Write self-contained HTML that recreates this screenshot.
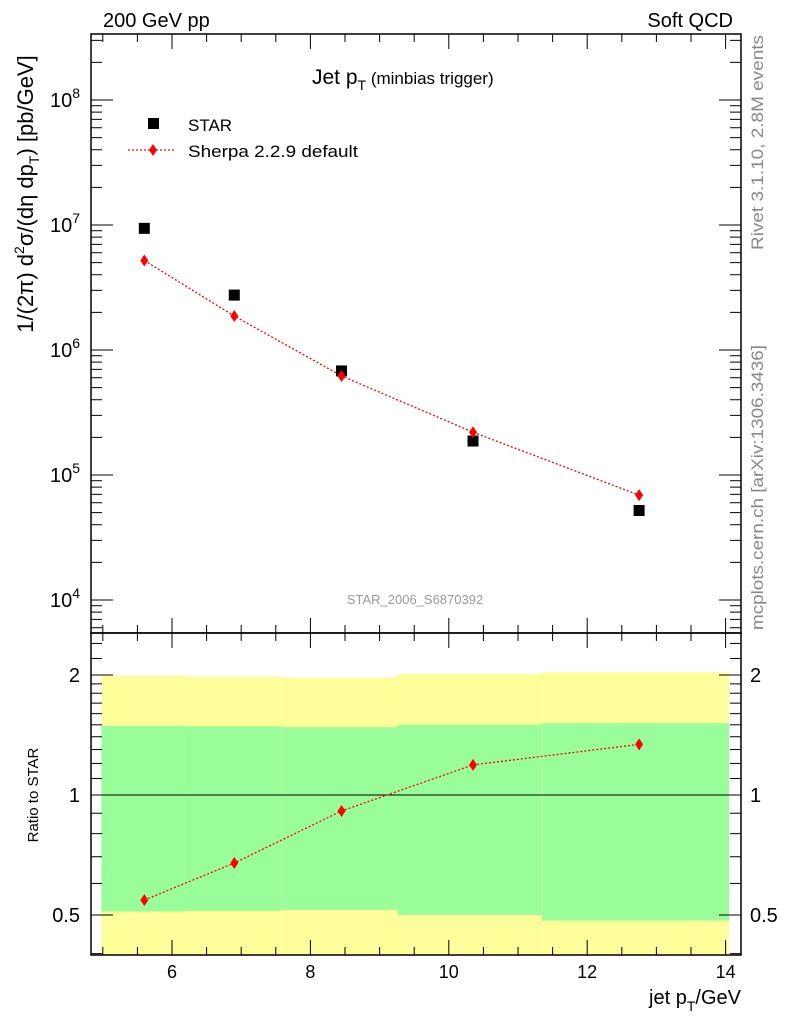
<!DOCTYPE html>
<html><head><meta charset="utf-8"><style>
body{margin:0;background:#fff;}
svg{display:block;font-family:"Liberation Sans",sans-serif;}
</style></head><body>
<svg id="c" width="786" height="1024" viewBox="0 0 786 1024">
<g id="bands"></g>
<g id="marks"></g>
<g id="axes"></g>
<text x="103" y="27" font-size="20">200 GeV pp</text>
<text x="733" y="27" font-size="20" text-anchor="end">Soft QCD</text>
<text x="312" y="84" font-size="21">Jet p<tspan font-size="14" dy="6">T</tspan><tspan font-size="17" dy="-6"> (minbias trigger)</tspan></text>
<text x="415" y="604" font-size="13" fill="#999" text-anchor="middle">STAR_2006_S6870392</text>
<text transform="translate(763,250) rotate(-90)" font-size="17" fill="#888" textLength="215" lengthAdjust="spacingAndGlyphs">Rivet 3.1.10,  2.8M events</text>
<text transform="translate(763,630) rotate(-90)" font-size="17" fill="#888" textLength="285" lengthAdjust="spacingAndGlyphs">mcplots.cern.ch [arXiv:1306.3436]</text>
<text transform="translate(33,194) rotate(-90)" font-size="22" text-anchor="middle">1/(2π) d<tspan font-size="14" dy="-9">2</tspan><tspan dy="9">σ/(dη dp</tspan><tspan font-size="14" dy="6">T</tspan><tspan dy="-6">) [pb/GeV]</tspan></text>
<text transform="translate(38,795) rotate(-90)" font-size="15" text-anchor="middle">Ratio to STAR</text>
<text x="741" y="1004" font-size="20" text-anchor="end">jet p<tspan font-size="14" dy="7">T</tspan><tspan dy="-7">/GeV</tspan></text>
<g>
<rect x="148" y="118" width="11" height="11" fill="#000"/>
<text x="188" y="131" font-size="17">STAR</text>
<line x1="128" y1="150" x2="176" y2="150" stroke="red" stroke-width="1.3" stroke-dasharray="2,2"/>
<path d="M153,144 L157,150 L153,156 L149,150Z" fill="red"/>
<text x="188" y="157" font-size="17" textLength="170" lengthAdjust="spacingAndGlyphs">Sherpa 2.2.9 default</text>
</g>
</svg>
<script>
const xCenters=[5.6,6.9,8.45,10.35,12.75];
const starVals=[9.4e6,2.75e6,6.8e5,1.87e5,5.2e4];
const sherpaVals=[5.2e6,1.87e6,6.2e5,2.2e5,6.9e4];
const ratioVals=[0.545,0.675,0.912,1.19,1.34];
const ratioErr=[0.01,0.01,0.01,0.02,0.04];
const binEdges=[4.98,6.18,7.58,9.26,11.35,14.05];
const yellowTop=[1.99,1.98,1.97,2.01,2.03];
const greenTop=[1.49,1.487,1.48,1.50,1.515];
const greenBot=[0.51,0.512,0.515,0.5,0.484];
const yellowBot=[0.3,0.3,0.3,0.3,0.3];
const xTicks=[6,8,10,12,14];
const yTicks=[4,5,6,7,8];
const rTicks=[0.5,1,2];

const NS='http://www.w3.org/2000/svg';
const L=91,R=741,T=34,B=633,RB=955;
const X=v=>172+(v-6)*69.2;
const Y=v=>100+(8-Math.log10(v))*125;
const RY=r=>795-Math.log2(r)*120;
function mk(p,tag,at){const e=document.createElementNS(NS,tag);for(const k in at)e.setAttribute(k,at[k]);p.appendChild(e);return e;}
const bands=document.getElementById('bands'),marks=document.getElementById('marks'),axes=document.getElementById('axes');
const clip=v=>Math.max(633,Math.min(955,v));
for(let i=0;i<5;i++){
 const x0=X(binEdges[i]),x1=X(binEdges[i+1]);
 let e=mk(bands,'rect',{x:x0,y:clip(RY(yellowTop[i])),width:x1-x0,height:clip(RY(yellowBot[i]))-clip(RY(yellowTop[i])),fill:'#fdfd99'});
 
 
 e=mk(bands,'rect',{x:x0,y:RY(greenTop[i]),width:x1-x0,height:RY(greenBot[i])-RY(greenTop[i]),fill:'#99fe99'});
 
 
}
let e=mk(marks,'line',{x1:L,x2:R,y1:RY(1),y2:RY(1),stroke:'#000','stroke-width':1});


const dia=(x,y)=>`M${x},${y-6}L${x+4},${y}L${x},${y+6}L${x-4},${y}Z`;
e=mk(marks,'polyline',{points:xCenters.map((v,i)=>X(v)+','+Y(sherpaVals[i])).join(' '),fill:'none',stroke:'red','stroke-width':1.3,'stroke-dasharray':'2,2'});


e=mk(marks,'polyline',{points:xCenters.map((v,i)=>X(v)+','+RY(ratioVals[i])).join(' '),fill:'none',stroke:'red','stroke-width':1.3,'stroke-dasharray':'2,2'});


xCenters.forEach((v,i)=>{
 const x=X(v);
 let s=mk(marks,'rect',{x:x-5.5,y:Y(starVals[i])-5.5,width:11,height:11,fill:'#000'});
 
 
 let d=mk(marks,'path',{d:dia(x,Y(sherpaVals[i])),fill:'red'});
 
 
 let eb=mk(marks,'line',{x1:x,x2:x,y1:RY(ratioVals[i]+ratioErr[i]),y2:RY(ratioVals[i]-ratioErr[i]),stroke:'red','stroke-width':1.2});
 
 
 let r=mk(marks,'path',{d:dia(x,RY(ratioVals[i])),fill:'red'});
 
 
});
mk(axes,'rect',{x:L,y:T,width:R-L,height:B-T,fill:'none',stroke:'#000','stroke-width':1.5});
mk(axes,'rect',{x:L,y:B,width:R-L,height:RB-B,fill:'none',stroke:'#000','stroke-width':1.5});
const ln=(x1,y1,x2,y2)=>mk(axes,'line',{x1,y1,x2,y2,stroke:'#000','stroke-width':1});
for(let v=5;v<=14.01;v+=0.5){
 const x=X(v),maj=Math.abs(v-Math.round(v/2)*2)<1e-6,len=maj?15:8;
 ln(x,T,x,T+len);ln(x,B,x,B+len);ln(x,B,x,B-len);ln(x,RB,x,RB-len);
}
xTicks.forEach(v=>{
 const t=mk(axes,'text',{x:X(v),y:978,'font-size':18,'text-anchor':'middle'});t.textContent=v;
 
 
});
for(let d=3;d<=8;d++){for(let m=1;m<10;m++){
 const y=Y(m*Math.pow(10,d));if(y<T||y>B)continue;
 const len=m==1?22:11;ln(L,y,L+len,y);ln(R,y,R-len,y);
}}
yTicks.forEach(d=>{
 const t=mk(axes,'text',{x:80,y:Y(Math.pow(10,d))+7,'font-size':20,'text-anchor':'end'});
 t.innerHTML='10<tspan font-size="14" dy="-9">'+d+'</tspan>';
 
 
});
[0.4,0.5,0.6,0.7,0.8,0.9,1,1.1,1.2,1.3,1.4,1.5,1.6,1.7,1.8,1.9,2,2.2,2.4].forEach(r=>{
 const y=RY(r);if(y<B||y>RB)return;const len=rTicks.includes(r)?22:11;ln(L,y,L+len,y);ln(R,y,R-len,y);
});
rTicks.forEach(r=>{
 [[80,'end'],[750,'start']].forEach(([x,a])=>{
 const t=mk(axes,'text',{x,y:RY(r)+7,'font-size':20,'text-anchor':a});t.textContent=r;
 
 
 });
});
</script>
</body></html>
